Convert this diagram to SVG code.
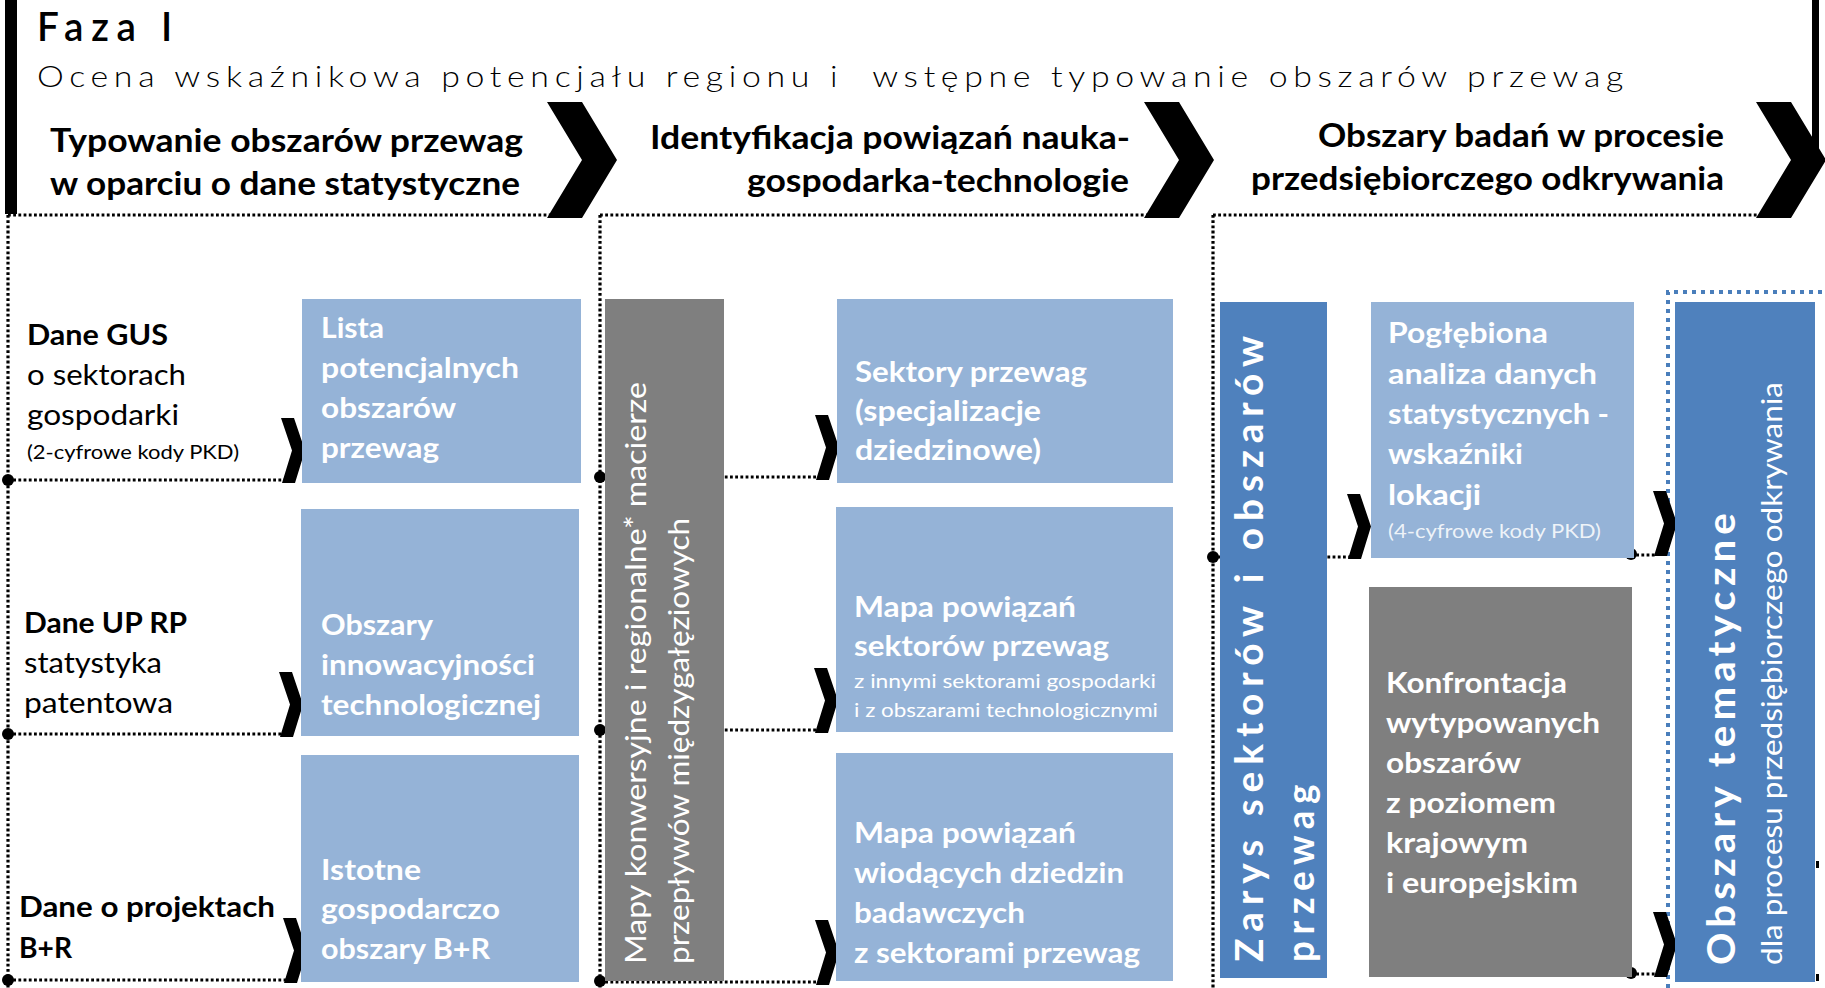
<svg xmlns="http://www.w3.org/2000/svg" xmlns:xlink="http://www.w3.org/1999/xlink" width="1825" height="988" viewBox="0 0 1825 988">
  <defs>
    <style>
      text { font-family: Lato, "Liberation Sans", sans-serif; }
      .dots { fill: none; stroke: #000; stroke-width: 3.2; stroke-dasharray: 2.8 2.4; }
      .dots-blue { fill: none; stroke: #4A7EBB; stroke-width: 4; stroke-dasharray: 4 5; }
      .light { fill: #95B3D7; }
      .dark { fill: #4F81BD; }
      .gray { fill: #7F7F7F; }
      .ink { fill: #000; }
      .w { fill: #fff; font-weight: 700; font-size: 28px; }
      .ws { fill: #fff; font-size: 20px; }
      .lb { fill: #000; font-size: 28px; }
      .b { font-weight: 700; }
      .small { font-size: 20px; }
      .head { fill: #000; font-weight: 700; font-size: 33px; }
    </style>
    <!-- small connector chevron -->
    <path id="chev" d="M0,0 L13,0 L24,32.5 L14,65 L1,65 L11,32.5 Z"/>
    <!-- large phase chevron -->
    <path id="bigchev" d="M0,0 L35,0 L70,58 L35,116 L0,116 L35,58 Z"/>
    <circle id="dot" r="6"/>
  </defs>

  <rect width="1825" height="988" fill="#fff"/>

  <!-- phase title -->
  <g id="title">
    <rect x="5" y="0" width="12" height="214" class="ink"/>
    <rect x="1812" y="0" width="7" height="160" class="ink"/>
    <text x="37" y="41" font-size="40" font-weight="600" letter-spacing="8" textLength="143" lengthAdjust="spacingAndGlyphs">Faza I</text>
    <text x="37" y="87" font-size="30" font-weight="300" letter-spacing="5" textLength="1592" lengthAdjust="spacingAndGlyphs" style="white-space:pre">Ocena wskaźnikowa potencjału regionu i  wstępne typowanie obszarów przewag</text>
  </g>

  <!-- stage headers -->
  <g id="stage-1">
    <text class="head" x="50" y="152" textLength="473" lengthAdjust="spacingAndGlyphs">Typowanie obszarów przewag</text>
    <text class="head" x="50" y="195" textLength="470" lengthAdjust="spacingAndGlyphs">w oparciu o dane statystyczne</text>
    <use href="#bigchev" x="547" y="102"/>
  </g>
  <g id="stage-2">
    <text class="head" x="650" y="149" textLength="480" lengthAdjust="spacingAndGlyphs">Identyfikacja powiązań nauka-</text>
    <text class="head" x="747" y="192" textLength="382" lengthAdjust="spacingAndGlyphs">gospodarka-technologie</text>
    <use href="#bigchev" x="1144" y="102"/>
  </g>
  <g id="stage-3">
    <text class="head" x="1318" y="147" textLength="406" lengthAdjust="spacingAndGlyphs">Obszary badań w procesie</text>
    <text class="head" x="1251" y="190" textLength="473" lengthAdjust="spacingAndGlyphs">przedsiębiorczego odkrywania</text>
    <use href="#bigchev" x="1756" y="102"/>
  </g>

  <!-- connectors -->
  <g id="connectors">
    <path class="dots" d="M8,215 H550 M600,215 H1148 M1213,215 H1760"/>
    <path class="dots" d="M8,215 V988 M600,215 V988 M1213,215 V988"/>
    <path class="dots" d="M8,480 H284 M8,734 H282 M8,980 H286"/>
    <path class="dots" d="M600,477 H818 M600,730 H816 M600,982 H818"/>
    <path class="dots" d="M1213,557 H1350 M1631,555 H1657 M1631,974 H1657"/>
    <path class="dots-blue" d="M1668,988 V292 H1825"/>
    <g class="ink">
      <use href="#dot" x="8" y="480"/>
      <use href="#dot" x="8" y="734"/>
      <use href="#dot" x="8" y="980"/>
      <use href="#dot" x="600" y="477"/>
      <use href="#dot" x="600" y="730"/>
      <use href="#dot" x="600" y="981"/>
      <use href="#dot" x="1213" y="557"/>
      <use href="#dot" x="1631" y="554"/>
      <use href="#dot" x="1631" y="973"/>
      <use href="#chev" x="281" y="418"/>
      <use href="#chev" x="279" y="672"/>
      <use href="#chev" x="283" y="918"/>
      <use href="#chev" x="815" y="415"/>
      <use href="#chev" x="814" y="668"/>
      <use href="#chev" x="815" y="920"/>
      <use href="#chev" x="1347" y="494"/>
      <use href="#chev" x="1653" y="491"/>
      <use href="#chev" x="1653" y="912"/>
      <rect x="1816" y="861" width="3" height="7"/>
      <rect x="1816" y="974" width="3" height="7"/>
    </g>
  </g>

  <!-- data sources -->
  <g id="src-gus">
    <text class="lb b" x="27" y="345" textLength="141" lengthAdjust="spacingAndGlyphs">Dane GUS</text>
    <text class="lb" x="27" y="385" textLength="159" lengthAdjust="spacingAndGlyphs">o sektorach</text>
    <text class="lb" x="27" y="425" textLength="152" lengthAdjust="spacingAndGlyphs">gospodarki</text>
    <text class="lb small" x="27" y="459" textLength="212" lengthAdjust="spacingAndGlyphs">(2-cyfrowe kody PKD)</text>
  </g>
  <g id="src-uprp">
    <text class="lb b" x="24" y="633" textLength="163" lengthAdjust="spacingAndGlyphs">Dane UP RP</text>
    <text class="lb" x="24" y="673" textLength="138" lengthAdjust="spacingAndGlyphs">statystyka</text>
    <text class="lb" x="24" y="713" textLength="149" lengthAdjust="spacingAndGlyphs">patentowa</text>
  </g>
  <g id="src-br">
    <text class="lb b" x="19" y="917" textLength="256" lengthAdjust="spacingAndGlyphs">Dane o projektach</text>
    <text class="lb b" x="19" y="958" textLength="53" lengthAdjust="spacingAndGlyphs">B+R</text>
  </g>

  <!-- stage 1 results -->
  <g id="lista">
    <rect class="light" x="302" y="299" width="279" height="184"/>
    <text class="w" x="321" y="338" textLength="63" lengthAdjust="spacingAndGlyphs">Lista</text>
    <text class="w" x="321" y="378" textLength="198" lengthAdjust="spacingAndGlyphs">potencjalnych</text>
    <text class="w" x="321" y="418" textLength="135" lengthAdjust="spacingAndGlyphs">obszarów</text>
    <text class="w" x="321" y="458" textLength="118" lengthAdjust="spacingAndGlyphs">przewag</text>
  </g>
  <g id="innowacyjnosc">
    <rect class="light" x="301" y="509" width="278" height="227"/>
    <text class="w" x="321" y="635" textLength="112" lengthAdjust="spacingAndGlyphs">Obszary</text>
    <text class="w" x="321" y="675" textLength="214" lengthAdjust="spacingAndGlyphs">innowacyjności</text>
    <text class="w" x="321" y="715" textLength="220" lengthAdjust="spacingAndGlyphs">technologicznej</text>
  </g>
  <g id="obszary-br">
    <rect class="light" x="301" y="755" width="278" height="227"/>
    <text class="w" x="321" y="880" textLength="100" lengthAdjust="spacingAndGlyphs">Istotne</text>
    <text class="w" x="321" y="919" textLength="179" lengthAdjust="spacingAndGlyphs">gospodarczo</text>
    <text class="w" x="321" y="959" textLength="169" lengthAdjust="spacingAndGlyphs">obszary B+R</text>
  </g>

  <!-- stage 2 -->
  <g id="mapy">
    <rect class="gray" x="605" y="299" width="119" height="682"/>
    <text fill="#fff" font-size="28" transform="translate(646,964) rotate(-90)" textLength="582" lengthAdjust="spacingAndGlyphs">Mapy konwersyjne i regionalne* macierze</text>
    <text fill="#fff" font-size="28" transform="translate(689,964) rotate(-90)" textLength="446" lengthAdjust="spacingAndGlyphs">przepływów międzygałęziowych</text>
  </g>
  <g id="sektory">
    <rect class="light" x="837" y="299" width="336" height="184"/>
    <text class="w" x="855" y="382" textLength="232" lengthAdjust="spacingAndGlyphs">Sektory przewag</text>
    <text class="w" x="855" y="421" textLength="186" lengthAdjust="spacingAndGlyphs">(specjalizacje</text>
    <text class="w" x="855" y="460" textLength="186" lengthAdjust="spacingAndGlyphs">dziedzinowe)</text>
  </g>
  <g id="mapa-sektorow">
    <rect class="light" x="836" y="507" width="337" height="225"/>
    <text class="w" x="854" y="617" textLength="222" lengthAdjust="spacingAndGlyphs">Mapa powiązań</text>
    <text class="w" x="854" y="656" textLength="255" lengthAdjust="spacingAndGlyphs">sektorów przewag</text>
    <text class="ws" x="854" y="688" textLength="302" lengthAdjust="spacingAndGlyphs">z innymi sektorami gospodarki</text>
    <text class="ws" x="854" y="717" textLength="304" lengthAdjust="spacingAndGlyphs">i z obszarami technologicznymi</text>
  </g>
  <g id="mapa-dziedzin">
    <rect class="light" x="836" y="753" width="337" height="228"/>
    <text class="w" x="854" y="843" textLength="222" lengthAdjust="spacingAndGlyphs">Mapa powiązań</text>
    <text class="w" x="854" y="883" textLength="270" lengthAdjust="spacingAndGlyphs">wiodących dziedzin</text>
    <text class="w" x="854" y="923" textLength="171" lengthAdjust="spacingAndGlyphs">badawczych</text>
    <text class="w" x="854" y="963" textLength="286" lengthAdjust="spacingAndGlyphs">z sektorami przewag</text>
  </g>

  <!-- stage 3 -->
  <g id="zarys">
    <rect class="dark" x="1220" y="302" width="107" height="676"/>
    <text fill="#fff" font-size="39" font-weight="700" letter-spacing="7" transform="translate(1263,962) rotate(-90)" textLength="633" lengthAdjust="spacingAndGlyphs">Zarys sektorów i obszarów</text>
    <text fill="#fff" font-size="39" font-weight="700" letter-spacing="7" transform="translate(1314,962) rotate(-90)" textLength="184" lengthAdjust="spacingAndGlyphs">przewag</text>
  </g>
  <g id="poglebiona">
    <rect class="light" x="1371" y="302" width="263" height="256"/>
    <text class="w" x="1388" y="343" textLength="160" lengthAdjust="spacingAndGlyphs">Pogłębiona</text>
    <text class="w" x="1388" y="384" textLength="209" lengthAdjust="spacingAndGlyphs">analiza danych</text>
    <text class="w" x="1388" y="424" textLength="221" lengthAdjust="spacingAndGlyphs">statystycznych -</text>
    <text class="w" x="1388" y="464" textLength="135" lengthAdjust="spacingAndGlyphs">wskaźniki</text>
    <text class="w" x="1388" y="505" textLength="93" lengthAdjust="spacingAndGlyphs">lokacji</text>
    <text class="ws" x="1388" y="538" fill-opacity="0.85" textLength="213" lengthAdjust="spacingAndGlyphs">(4-cyfrowe kody PKD)</text>
  </g>
  <g id="konfrontacja">
    <rect class="gray" x="1369" y="587" width="263" height="390"/>
    <text class="w" x="1386" y="693" textLength="181" lengthAdjust="spacingAndGlyphs">Konfrontacja</text>
    <text class="w" x="1386" y="733" textLength="214" lengthAdjust="spacingAndGlyphs">wytypowanych</text>
    <text class="w" x="1386" y="773" textLength="135" lengthAdjust="spacingAndGlyphs">obszarów</text>
    <text class="w" x="1386" y="813" textLength="170" lengthAdjust="spacingAndGlyphs">z poziomem</text>
    <text class="w" x="1386" y="853" textLength="142" lengthAdjust="spacingAndGlyphs">krajowym</text>
    <text class="w" x="1386" y="893" textLength="192" lengthAdjust="spacingAndGlyphs">i europejskim</text>
  </g>
  <g id="obszary-tematyczne">
    <rect class="dark" x="1675" y="302" width="140" height="680"/>
    <text fill="#fff" font-size="39" font-weight="700" letter-spacing="5" transform="translate(1735,965) rotate(-90)" textLength="457" lengthAdjust="spacingAndGlyphs">Obszary tematyczne</text>
    <text fill="#fff" font-size="29" transform="translate(1782,965) rotate(-90)" textLength="583" lengthAdjust="spacingAndGlyphs">dla procesu przedsiębiorczego odkrywania</text>
  </g>
</svg>
